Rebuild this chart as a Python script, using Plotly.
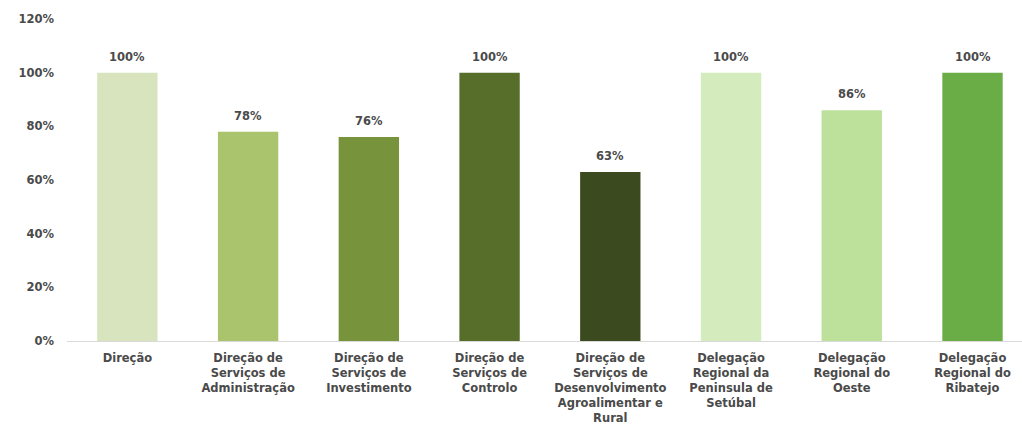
import plotly.graph_objects as go

categories = [
    "Direção",
    "Direção de<br>Serviços de<br>Administração",
    "Direção de<br>Serviços de<br>Investimento",
    "Direção de<br>Serviços de<br>Controlo",
    "Direção de<br>Serviços de<br>Desenvolvimento<br>Agroalimentar e<br>Rural",
    "Delegação<br>Regional da<br>Peninsula de<br>Setúbal",
    "Delegação<br>Regional do<br>Oeste",
    "Delegação<br>Regional do<br>Ribatejo",
]
values = [1.00, 0.78, 0.76, 1.00, 0.63, 1.00, 0.86, 1.00]
bar_colors = ["#d7e4bd", "#a9c46c", "#77933c", "#566e2a",
              "#3b4a1f", "#d3ebbd", "#bde09a", "#6aac46"]
y_ticks = [0, 0.2, 0.4, 0.6, 0.8, 1.0, 1.2]

text_color = "#4a4a4a"
font_family = "DejaVu Sans"

xs = list(range(len(categories)))

fig = go.Figure(go.Bar(
    x=xs,
    y=values,
    marker=dict(color=bar_colors, line=dict(width=0)),
    width=0.5,
    hoverinfo="y",
))

# value labels above each bar
for x, v in zip(xs, values):
    fig.add_annotation(
        x=x, y=v, yref="y", xref="x",
        text=f"<b>{v:.0%}</b>",
        showarrow=False, yanchor="bottom", yshift=7,
        font=dict(family=font_family, size=11.5, color=text_color),
    )

fig.update_layout(
    width=1022, height=432,
    margin=dict(l=67, r=0, t=19, b=91),
    plot_bgcolor="white", paper_bgcolor="white",
    showlegend=False,
    xaxis=dict(
        range=[-0.5, 7.41],
        tickmode="array",
        tickvals=xs,
        ticktext=[f"<b>{c}</b>" for c in categories],
        tickfont=dict(family=font_family, size=11.5, color=text_color),
        showline=True, linecolor="#d9d9d9", linewidth=1,
        ticks="", showgrid=False, zeroline=False,
        tickangle=0, ticklabelstandoff=6,
    ),
    yaxis=dict(
        range=[0, 1.2],
        tickvals=y_ticks,
        ticktext=[f"<b>{t:.0%}</b>" for t in y_ticks],
        tickfont=dict(family=font_family, size=11.5, color=text_color),
        showgrid=False, zeroline=False, showline=False,
        ticks="", ticklabelstandoff=12,
    ),
)

fig.write_html("out.html")
